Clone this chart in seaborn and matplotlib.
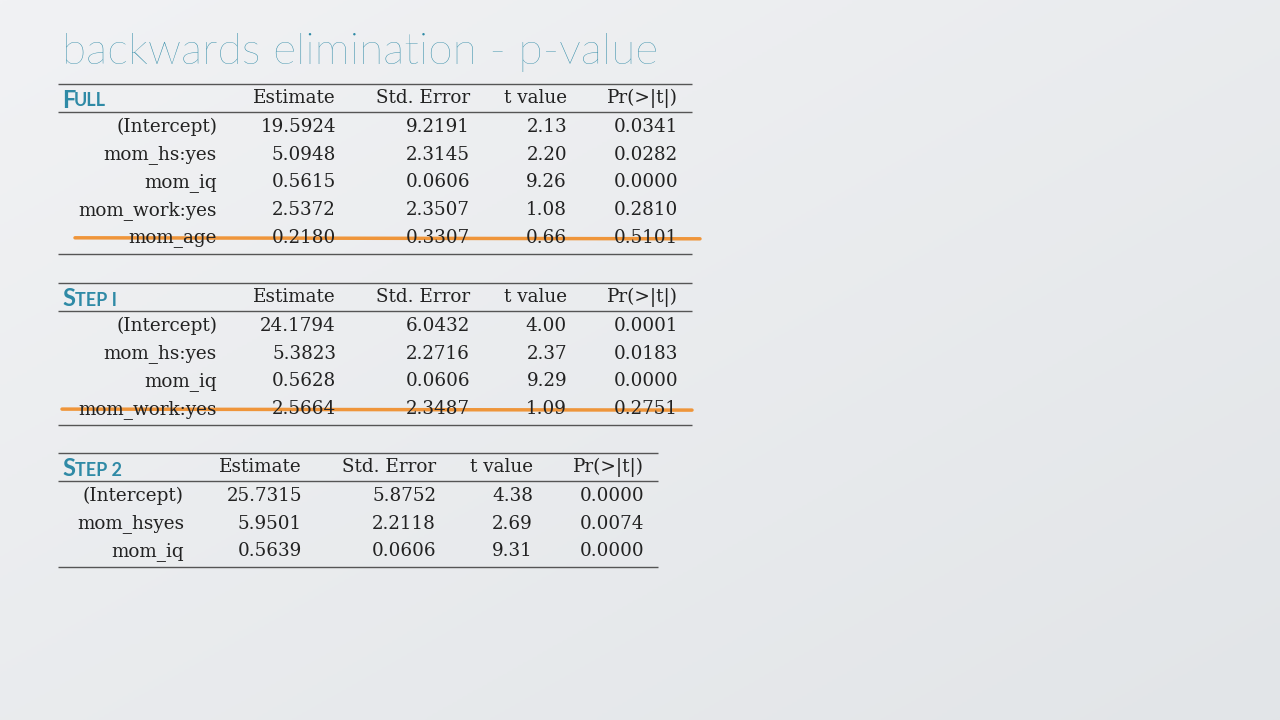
import numpy as np
import matplotlib
matplotlib.use("Agg")
import matplotlib.pyplot as plt
import seaborn as sns

# ==========================================================
# Table data
# ==========================================================
headers = ["Estimate", "Std. Error", "t value", "Pr(>|t|)"]

full_names = ["(Intercept)", "mom_hs:yes", "mom_iq", "mom_work:yes", "mom_age"]
full_vals = [["19.5924", "9.2191", "2.13", "0.0341"],
             ["5.0948", "2.3145", "2.20", "0.0282"],
             ["0.5615", "0.0606", "9.26", "0.0000"],
             ["2.5372", "2.3507", "1.08", "0.2810"],
             ["0.2180", "0.3307", "0.66", "0.5101"]]

step1_names = ["(Intercept)", "mom_hs:yes", "mom_iq", "mom_work:yes"]
step1_vals = [["24.1794", "6.0432", "4.00", "0.0001"],
              ["5.3823", "2.2716", "2.37", "0.0183"],
              ["0.5628", "0.0606", "9.29", "0.0000"],
              ["2.5664", "2.3487", "1.09", "0.2751"]]

step2_names = ["(Intercept)", "mom_hsyes", "mom_iq"]
step2_vals = [["25.7315", "5.8752", "4.38", "0.0000"],
              ["5.9501", "2.2118", "2.69", "0.0074"],
              ["0.5639", "0.0606", "9.31", "0.0000"]]

sns.set_theme(style="white")
TEAL = "#2f8aa6"
ORANGE = "#f0861a"
SERIF = ["DejaVu Serif"]
FS = 13.2

fig = plt.figure(figsize=(12.8, 7.2), dpi=100)
ax = fig.add_axes([0, 0, 1, 1])
ax.set_xlim(0, 1280)
ax.set_ylim(720, 0)
ax.axis("off")

# background gradient
grad = np.linspace(0, 1, 256)
grad = np.add.outer(grad, grad) / 2
ax.imshow(grad, extent=[0, 1280, 720, 0],
          cmap=sns.blend_palette(["#f1f2f4", "#e2e5e8"], as_cmap=True),
          aspect="auto", zorder=0)

ax.text(62, 52, "backwards elimination - p-value", color=TEAL, fontsize=32,
        family=["Lato", "DejaVu Sans"], fontweight="light", va="center", ha="left")


def draw_table(top, title, names, vals, name_right, col_rights, x_end, strike=None):
    x0 = 58
    row_h = 27.7
    ax.hlines(top, x0, x_end, color="#555555", lw=1)
    hy = top + 14
    ax.text(62, hy + 2, title[0], color=TEAL, fontsize=17, fontweight="bold",
            family=["Lato", "DejaVu Sans"], va="center", ha="left")
    ax.text(62 + (12 if title[0] == "F" else 13), hy + 3, title[1:].upper(), color=TEAL, fontsize=13,
            fontweight="bold", family=["Lato", "DejaVu Sans"], va="center", ha="left")
    for h, xr in zip(headers, col_rights):
        ax.text(xr, hy, h, fontsize=FS, family=SERIF, ha="right", va="center", color="#222222")
    ax.hlines(top + 28, x0, x_end, color="#555555", lw=1)
    for i, (n, row) in enumerate(zip(names, vals)):
        y = top + 28 + 15 + i * row_h
        ax.text(name_right, y, n, fontsize=FS, family=SERIF,
                ha="right", va="center", color="#222222")
        for v, xr in zip(row, col_rights):
            ax.text(xr, y, v, fontsize=FS, family=SERIF, ha="right", va="center", color="#222222")
    bottom = top + 28 + len(names) * row_h + 3
    ax.hlines(bottom, x0, x_end, color="#555555", lw=1)
    if strike is not None:
        sy = top + 28 + 15 + (len(names) - 1) * row_h
        sns.lineplot(x=[strike[0], strike[1]], y=[sy, sy + 1], color=ORANGE, lw=2.5, ax=ax, alpha=0.85)


draw_table(84, "Full", full_names, full_vals, 217, [336, 470, 567, 678], 692, strike=(75, 700))
draw_table(283, "Step I", step1_names, step1_vals, 217, [336, 470, 567, 678], 692, strike=(62, 692))
draw_table(453, "Step 2", step2_names, step2_vals, 184, [302, 436, 533, 644], 658)

ax.set_xlim(0, 1280)
ax.set_ylim(720, 0)
fig.savefig("out.png", dpi=100)
